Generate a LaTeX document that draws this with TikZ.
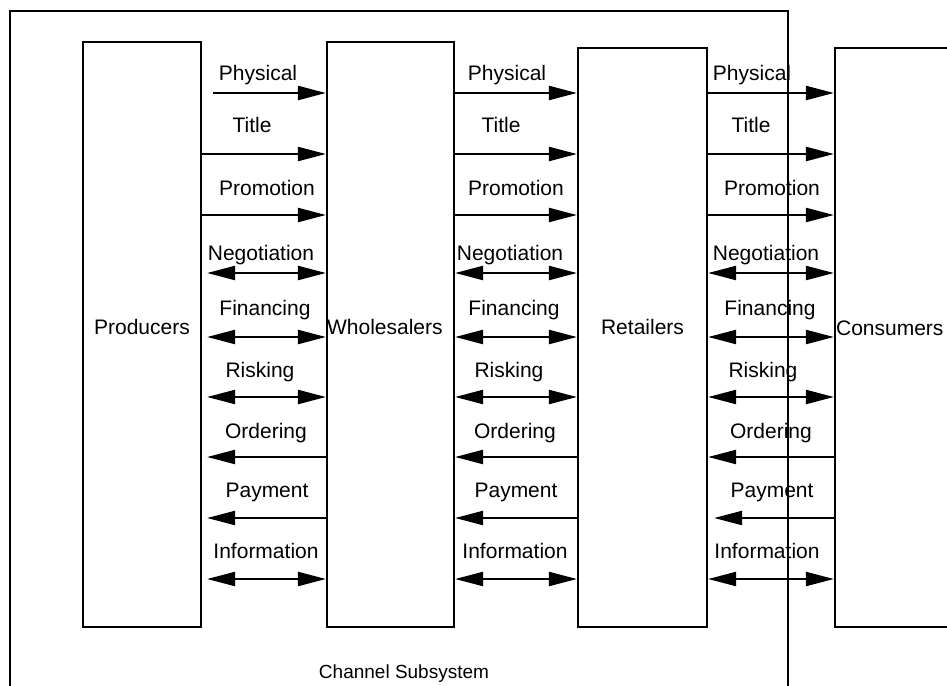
\documentclass[tikz,border=0pt]{standalone}
\usepackage{fontspec}
\setmainfont{Liberation Sans}
\usetikzlibrary{arrows.meta,calc}
\begin{document}
\begin{tikzpicture}[x=1pt,y=-1pt,
  box/.style={draw, line width=2.2pt, inner sep=0pt, minimum height=585pt},
  flow/.style={line width=2.2pt},
  tip/.tip={Triangle[length=28pt,width=14pt]},
  fwd/.style={flow, -tip},
  bwd/.style={flow, tip-},
  both/.style={flow, tip-tip},
  txt/.style={font=\fontsize{21}{24}\selectfont, inner sep=0pt},
  lab/.style={txt, anchor=base}]
\clip (0,0) rectangle (947,685);
\useasboundingbox (0,0) rectangle (947,685);

% channel subsystem frame (open at the bottom)
\draw[line width=2.5pt] (10,695) -- (10,11) -- (788,11) -- (788,695);
\node[lab, font=\fontsize{19}{22}\selectfont] (sub) at (404,678) {Channel Subsystem};

% channel members
\node[box, minimum width=118pt] (P) at (142,334.5) {};
\node[box, minimum width=127pt] (W) at (390.5,334.5) {};
\node[box, minimum width=129pt, minimum height=579pt] (R) at (642.5,337.5) {};
\node[box, minimum width=165pt, minimum height=579pt] (C) at (917.5,337.5) {};

\node[txt] (tP) at (142,327) {Producers};
\node[txt, anchor=west] (tW) at ([xshift=1pt]W.west |- 0,327) {Wholesalers};
\node[txt] (tR) at (642.5,327) {Retailers};
\node[txt, anchor=west] (tC) at ([xshift=2pt]C.west |- 0,328) {Consumers};

% flows between neighbouring members;
% \g and \h are the gaps left at the start of the first and last column,
% \k moves the labels of the last column
\foreach \a/\b/\cx/\col in {P/W/263/1, W/R/512/2, R/C/768/3}{
  \foreach \y/\base/\s/\name/\dx/\g/\h/\k in {
      93/80/fwd/Physical/-5/11/0/-11,
      154/132/fwd/Title/-11/0/0/-6,
      215/195/fwd/Promotion/4/0/0/0,
      273/260/both/Negotiation/-2/5/0/0,
      337/315/both/Financing/2/5/0/0,
      397/377/both/Risking/-3/5/0/-2,
      457/438/bwd/Ordering/3/5/0/0,
      518/497/bwd/Payment/4/5/6/0,
      579/558/both/Information/3/5/0/-4}{
    \pgfmathsetmacro\gap{\col==1 ? \g : (\col==3 ? \h : 0)}
    \pgfmathsetmacro\lx{\cx + \dx + (\col==3 ? \k : 0)}
    \draw[\s] ($(\a.east |- 0,\y)+(\gap,0)$) -- (\b.west |- 0,\y);
    \node[lab] (l\col\name) at (\lx,\base) {\name};
  }
}
\end{tikzpicture}
\end{document}
